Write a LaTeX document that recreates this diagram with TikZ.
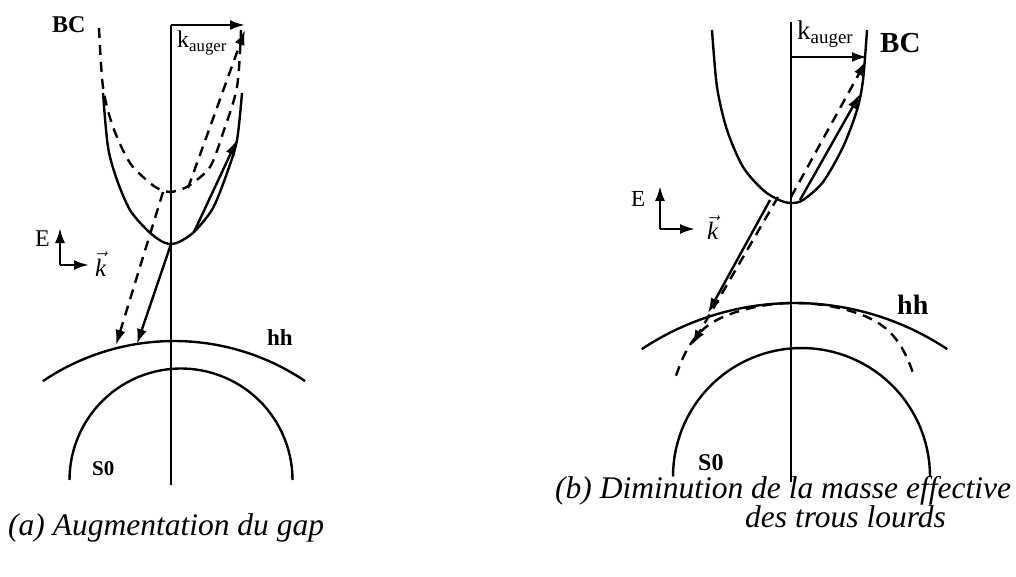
\documentclass[tikz,border=0pt]{standalone}
\usepackage{fontspec}
\setmainfont{Liberation Serif}
\usetikzlibrary{arrows.meta}
\newcommand{\fsz}[1]{\fontsize{#1}{#1}\selectfont}
\newcommand{\veck}{$\vec{\mbox{\itshape k}}$}

\begin{document}
\begin{tikzpicture}[x=1pt,y=-1pt,
    >={Latex[length=15pt,width=10pt]},
    band/.style={line width=2.4pt},
    bandalt/.style={line width=2.4pt,dash pattern=on 10pt off 7pt},
    axe/.style={line width=2pt},
    lbl/.style={inner sep=0pt,anchor=base west}]
\useasboundingbox (0,0) rectangle (1016,577);

% (a) augmentation du gap
\draw[axe] (171,25) -- (171,485);
\draw[band,->] (171,25) -- (245,25);
\draw[band] plot[smooth] coordinates {(103,93) (108,147) (117,180) (130,210) (147,230) (161,241) (171,244)
    (181,241) (195,231) (213,208) (227,173) (237,140) (242,93)};
\draw[bandalt] plot[smooth] coordinates {(99,28) (103,87) (113,127) (130,163) (150,183) (161,190) (170,192)
    (179,190) (190,185) (210,167) (223,133) (237,87) (241,30)};
\draw[band] plot[domain=56:124,samples=40] ({174+234.5*cos(\x)},{575.5-234.5*sin(\x)});
\draw[band] plot[domain=0:180,samples=60] ({181+111.5*cos(\x)},{480-111.5*sin(\x)});
\draw[band,->] (171,244) -- (137,344);
\draw[bandalt,->] (163,192) -- (116,345);
\draw[band,->] (194,232) -- (237,140);
\draw[bandalt,->] (188,188) -- (245,30);
\draw[band,->] (60,265) -- (60,228);
\draw[band,->] (60,265) -- (89,265);
\node[lbl] (bca) at (52,33) {\fsz{24}\bfseries BC};
\node[lbl] (kaa) at (177,48) {\fsz{24}k\textsubscript{auger}};
\node[lbl] (ea) at (35,247) {\fsz{24}E};
\node[lbl] (veca) at (95,276) {\fsz{25}\veck};
\node[lbl] (hha) at (267,345) {\fsz{23}\bfseries hh};
\node[lbl] (s0a) at (92,475) {\fsz{21}\bfseries S0};
\node[lbl] (capa) at (8,535) {\fsz{31.5}\itshape (a) Augmentation du gap};

% (b) diminution de la masse effective
\draw[axe] (791,22) -- (791,482);
\draw[band,->] (791,57) -- (867,57);
\draw[band] plot[smooth] coordinates {(712,30) (717,87) (727,130) (743,167) (763,190) (779,200) (791,203)
    (803,200) (823,182) (843,147) (857,110) (863,80) (867,30)};
\draw[band] plot[domain=56.4:123.6,samples=40] ({794.5+276*cos(\x)},{579-276*sin(\x)});
\draw[bandalt] plot[domain=-119:119,samples=60] ({795+\x},{303+0.002574*\x*\x+38.9*(\x*\x/14400)^4});
\draw[band] plot[domain=0:180,samples=60] ({801.5+128.5*cos(\x)},{476.5-128.5*sin(\x)});
\draw[band,->] (800,200) -- (860,94);
\draw[bandalt,->] (791,197) -- (866,61);
\draw[band,->] (770,200) -- (708,313);
\draw[bandalt,->] (778,197) -- (692,345);
\draw[band,->] (660,229) -- (660,186);
\draw[band,->] (660,229) -- (695,229);
\node[lbl] (bcb) at (880,53) {\fsz{29}\bfseries BC};
\node[lbl] (kab) at (797,40) {\fsz{27}k\textsubscript{auger}};
\node[lbl] (eb) at (631,207) {\fsz{23}E};
\node[lbl] (vecb) at (707,240) {\fsz{25}\veck};
\node[lbl] (hhb) at (897,314) {\fsz{28}\bfseries hh};
\node[lbl] (s0b) at (698,470) {\fsz{24}\bfseries S0};
\node[lbl] (capb) at (555,498) {\fsz{31.5}\itshape (b) Diminution de la masse effective};
\node[lbl] (capc) at (745,527) {\fsz{31.5}\itshape des trous lourds};
\end{tikzpicture}
\end{document}
